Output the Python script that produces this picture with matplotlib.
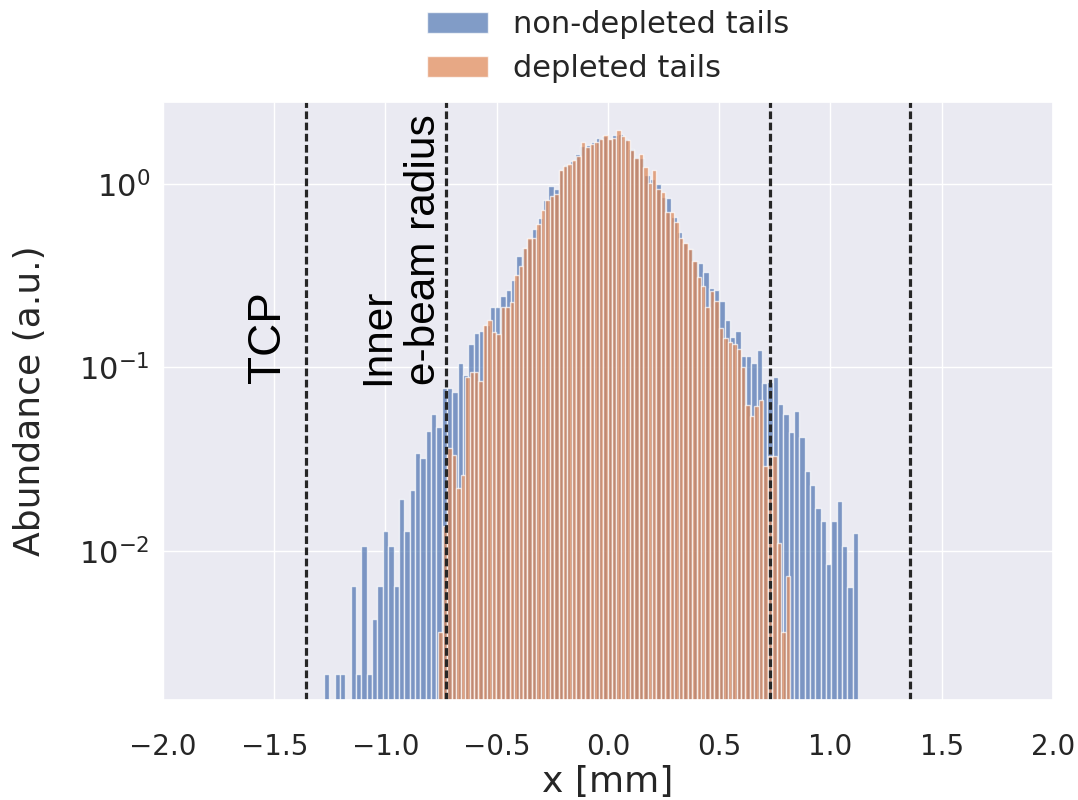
import numpy as np
import matplotlib
matplotlib.use("Agg")
import matplotlib.pyplot as plt
import seaborn as sns

# bin ranges of the two histograms (x in mm)
blue_range = (-1.276, 1.124)
orange_range = (-0.762, 0.818)

# bar heights (density, a.u.)
non_depleted = [
    0.00214, 0, 0.00214, 0.00214, 0, 0.00642, 0.00214, 0.0107, 0.00214, 0.00428,
    0.00642, 0.0128, 0.0107, 0.00642, 0.0193, 0.0128, 0.0214, 0.0342, 0.0321, 0.0449,
    0.0556, 0.0471, 0.077, 0.077, 0.0738, 0.106, 0.091, 0.134, 0.154, 0.158,
    0.17, 0.215, 0.215, 0.244, 0.263, 0.299, 0.404, 0.45, 0.50, 0.57,
    0.65, 0.82, 0.975, 0.945, 1.20, 1.27, 1.33, 1.45, 1.62, 1.63,
    1.70, 1.78, 1.82, 1.76, 1.85, 1.88, 1.75, 1.55, 1.40, 1.38,
    1.12, 1.06, 1.00, 0.85, 0.84, 0.66, 0.55, 0.48, 0.44, 0.38,
    0.372, 0.331, 0.27, 0.263, 0.231, 0.181, 0.147, 0.159, 0.115, 0.115,
    0.106, 0.124, 0.0826, 0.083, 0.089, 0.063, 0.0556, 0.0447, 0.0582, 0.042,
    0.0274, 0.0229, 0.0171, 0.0146, 0.00846, 0.0146, 0.0188, 0.0106, 0.00638, 0.0126,
]
depleted = [
    0.0036, 0.0136, 0.0365, 0.0333, 0.0219, 0.0258, 0.0883, 0.0946, 0.0946, 0.0842,
    0.170, 0.181, 0.157, 0.152, 0.215, 0.215, 0.228, 0.32, 0.356, 0.447,
    0.505, 0.507, 0.605, 0.722, 0.818, 0.86, 0.88, 1.19, 1.25, 1.29,
    1.35, 1.42, 1.69, 1.60, 1.65, 1.70, 1.77, 1.86, 1.77, 1.78,
    1.96, 1.82, 1.73, 1.53, 1.38, 1.45, 1.24, 1.01, 1.19, 0.94,
    0.90, 0.70, 0.70, 0.62, 0.51, 0.48, 0.44, 0.38, 0.31, 0.278,
    0.213, 0.262, 0.229, 0.165, 0.144, 0.137, 0.134, 0.126, 0.101, 0.0623,
    0.0544, 0.0617, 0.0665, 0.029, 0.033, 0.033, 0.011, 0.0036, 0.0073,
]

tcp_radius = 1.357
ebeam_radius = 0.73

sns.set_theme(style="darkgrid")
plt.rcParams["font.family"] = ["DejaVu Sans"]

fig = plt.figure(figsize=(10.78, 8.0), dpi=100)
ax = fig.add_axes([0.1512, 0.125, 0.8256, 0.7475])

blue_edges = np.linspace(blue_range[0], blue_range[1], len(non_depleted) + 1)
orange_edges = np.linspace(orange_range[0], orange_range[1], len(depleted) + 1)
blue_mid = 0.5 * (blue_edges[:-1] + blue_edges[1:])
orange_mid = 0.5 * (orange_edges[:-1] + orange_edges[1:])

ax.hist(blue_mid, bins=blue_edges, weights=non_depleted, alpha=0.7,
        color=sns.color_palette()[0], label="non-depleted tails")
ax.hist(orange_mid, bins=orange_edges, weights=depleted, alpha=0.7,
        color=sns.color_palette()[1], label="depleted tails")
ax.set_yscale("log")

for xv in (-tcp_radius, -ebeam_radius, ebeam_radius, tcp_radius):
    ax.axvline(xv, color="0.15", lw=2.3, dashes=(2.4, 1.1))

ax.text(-1.528, 0.082, "TCP", rotation=90, ha="center", va="bottom",
        fontsize=33, family="Liberation Sans", color="black")
ax.text(-0.93, 0.080, "Inner\ne-beam radius", rotation=90, ha="center",
        va="bottom", multialignment="left", fontsize=30.5,
        family="Liberation Sans", color="black", linespacing=1.2)

ax.set_xlim(-2.0, 2.0)
ax.set_ylim(0.00154, 2.8)
ax.set_xticks(np.arange(-2.0, 2.01, 0.5))
ax.tick_params(axis="x", labelsize=20, pad=18)
ax.tick_params(axis="y", labelsize=22)
ax.set_xlabel("x [mm]", fontsize=26)
ax.set_ylabel("Abundance (a.u.)", fontsize=26)
ax.xaxis.set_label_coords(0.5, -0.108)
ax.yaxis.set_label_coords(-0.13, 0.5)

ax.legend(loc="lower center", bbox_to_anchor=(0.5, 0.985), frameon=False,
          fontsize=22)

fig.savefig("out.png", dpi=100)
